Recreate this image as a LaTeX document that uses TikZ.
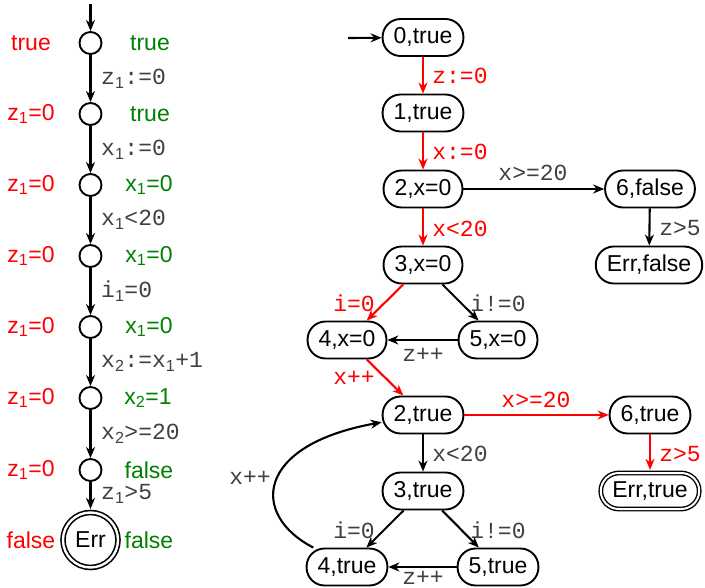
\documentclass[tikz,border=0pt]{standalone}
\usepackage{fontspec}
\setmainfont{Liberation Sans}
\setsansfont{Liberation Sans}
\setmonofont{Liberation Mono}
\usetikzlibrary{arrows.meta}
\definecolor{grn}{RGB}{0,128,0}
\newcommand{\sub}[1]{\textsubscript{\sffamily #1}}
\begin{document}
\begin{tikzpicture}[x=1pt,y=-1pt,
  font=\fontsize{23}{27}\selectfont,
  >={Stealth[length=11pt,width=9pt,inset=3.5pt]},
  st/.style={draw, line width=1.9pt, rounded corners=18pt, minimum height=37pt,
             inner xsep=11pt, inner ysep=0pt, text height=16.5pt, text depth=4pt},
  cst/.style={draw, circle, minimum size=22pt, inner sep=0pt, line width=1.9pt},
  lbl/.style={font=\ttfamily\fontsize{23}{27}\selectfont, text=black!75, inner sep=0pt},
  rlbl/.style={lbl, text=red},
  rtxt/.style={text=red, inner sep=0pt},
  gtxt/.style={text=grn, inner sep=0pt},
  redge/.style={draw=red, line width=2.1pt, ->},
  bedge/.style={draw=black, line width=2.1pt, ->}]
\useasboundingbox (0,0) rectangle (705,588);

% ---------- left chain ----------
\coordinate (c0) at (90.5,4);
\node[cst] (c1) at (90.5,43) {};
\node[cst] (c2) at (90.5,114) {};
\node[cst] (c3) at (90.5,185) {};
\node[cst] (c4) at (90.5,256) {};
\node[cst] (c5) at (90.5,327) {};
\node[cst] (c6) at (90.5,398) {};
\node[cst] (c7) at (90.5,470) {};
\node[draw, circle, minimum size=55pt, inner sep=0pt, line width=1.6pt,
      double, double distance=2.4pt] (cerr) at (90.5,540) {Err};

\draw[bedge] (c0) -- (c1);
\draw[bedge] (c1) -- (c2);
\draw[bedge] (c2) -- (c3);
\draw[bedge] (c3) -- (c4);
\draw[bedge] (c4) -- (c5);
\draw[bedge] (c5) -- (c6);
\draw[bedge] (c6) -- (c7);
\draw[bedge, shorten >=2.8pt] (c7) -- (cerr);

\node[lbl, anchor=west] (l1) at (101,79) {z\sub{1}:=0};
\node[lbl, anchor=west] (l2) at (101,150) {x\sub{1}:=0};
\node[lbl, anchor=west] (l3) at (101,220) {x\sub{1}<20};
\node[lbl, anchor=west] (l4) at (101,291) {i\sub{1}=0};
\node[lbl, anchor=west] (l5) at (101,362) {x\sub{2}:=x\sub{1}+1};
\node[lbl, anchor=west] (l6) at (101,434) {x\sub{2}>=20};
\node[lbl, anchor=west] (l7) at (101,494) {z\sub{1}>5};

\node[rtxt] (r1) at (31,43) {true};
\node[rtxt] (r2) at (31,114) {z\textsubscript{1}=0};
\node[rtxt] (r3) at (31,185) {z\textsubscript{1}=0};
\node[rtxt] (r4) at (31,256) {z\textsubscript{1}=0};
\node[rtxt] (r5) at (31,327) {z\textsubscript{1}=0};
\node[rtxt] (r6) at (31,398) {z\textsubscript{1}=0};
\node[rtxt] (r7) at (31,470) {z\textsubscript{1}=0};
\node[rtxt] (r8) at (31,540) {false};

\node[gtxt] (g1) at (150,43) {true};
\node[gtxt] (g2) at (150,114) {true};
\node[gtxt] (g3) at (149,185) {x\textsubscript{1}=0};
\node[gtxt] (g4) at (149,256) {x\textsubscript{1}=0};
\node[gtxt] (g5) at (149,327) {x\textsubscript{1}=0};
\node[gtxt] (g6) at (148,398) {x\textsubscript{2}=1};
\node[gtxt] (g7) at (149,470) {false};
\node[gtxt] (g8) at (149,540) {false};

% ---------- right graph ----------
\coordinate (s0) at (348,38);
\node[st] (n0) at (423,37.5) {0,true};
\node[st] (n1) at (423,113) {1,true};
\node[st] (n2) at (423,189) {2,x=0};
\node[st] (n6) at (650,189) {6,false};
\node[st] (n3) at (423,265) {3,x=0};
\node[st] (ne) at (649,265) {Err,false};
\node[st] (n4) at (347,340) {4,x=0};
\node[st] (n5) at (498,340) {5,x=0};
\node[st] (m2) at (423,415) {2,true};
\node[st] (m6) at (650,415) {6,true};
\node[st] (m3) at (423,491) {3,true};
\node[st, line width=1.4pt, double, double distance=2pt, minimum height=36pt,
      inner xsep=11.5pt] (me) at (650,491) {Err,true};
\node[st] (m4) at (347,567) {4,true};
\node[st] (m5) at (498,567) {5,true};

\draw[bedge] (s0) -- (n0);
\draw[redge] (n0) -- (n1);
\draw[redge] (n1) -- (n2);
\draw[bedge] (n2) -- (n6);
\draw[bedge] (n6) -- (ne);
\draw[redge] (n2) -- (n3);
\draw[redge] (n3) -- (n4);
\draw[bedge] (n3) -- (n5);
\draw[bedge] (n5) -- (n4);
\draw[redge] (n4) -- (m2);
\draw[redge] (m2) -- (m6);
\draw[redge, shorten >=2.4pt] (m6) -- (me);
\draw[bedge] (m2) -- (m3);
\draw[bedge] (m3) -- (m4);
\draw[bedge] (m3) -- (m5);
\draw[bedge] (m5) -- (m4);
\draw[bedge] (m4.150) .. controls (250,515) and (255,445) .. (m2.190);

\node[rlbl] (e01) at (460,76) {z:=0};
\node[rlbl] (e12) at (460,152) {x:=0};
\node[lbl]  (e26) at (533,173) {x>=20};
\node[lbl]  (e6e) at (680,228) {z>5};
\node[rlbl] (e23) at (460,229) {x<20};
\node[rlbl] (e34) at (354,303) {i=0};
\node[lbl]  (e35) at (498,303) {i!=0};
\node[lbl]  (e54) at (423,355) {z++};
\node[rlbl] (e4m) at (354,378) {x++};
\node[rlbl] (f26) at (536,400) {x>=20};
\node[rlbl] (f6e) at (680,454) {z>5};
\node[lbl]  (f23) at (460,454) {x<20};
\node[lbl]  (f34) at (354,530) {i=0};
\node[lbl]  (f35) at (498,530) {i!=0};
\node[lbl]  (f54) at (423,578) {z++};
\node[lbl]  (f42) at (250,478) {x++};
\end{tikzpicture}
\end{document}
